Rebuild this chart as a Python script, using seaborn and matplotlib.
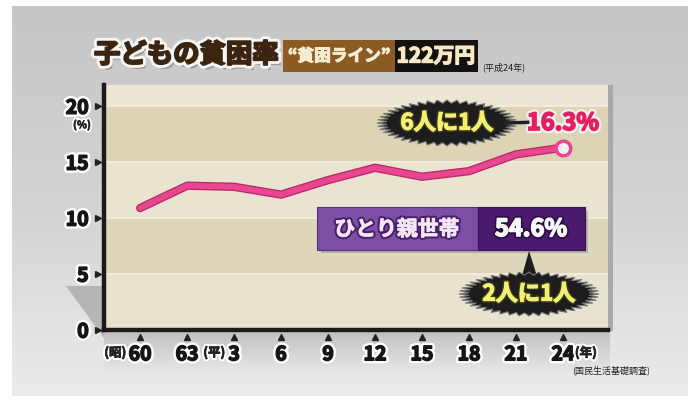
import numpy as np
import pandas as pd
import matplotlib
matplotlib.use("Agg")
import matplotlib.pyplot as plt
import matplotlib.patheffects as pe
import matplotlib.transforms as mtrans
from matplotlib.patches import Rectangle, Polygon
import seaborn as sns

# ---- data ----
year_labels = ["60", "63", "3", "6", "9", "12", "15", "18", "21", "24"]
era_prefix = ["(昭)", "", "(平)", "", "", "", "", "", "", ""]
poverty_rate = [10.9, 12.9, 12.8, 12.1, 13.4, 14.5, 13.7, 14.2, 15.7, 16.3]
y_ticks = [0, 5, 10, 15, 20]
title_text = "子どもの貧困率"
line_label = "“貧困ライン”"
line_value = "122万円"
line_year = "(平成24年)"
child_note = "6人に1人"
child_value = "16.3%"
single_label = "ひとり親世帯"
single_value = "54.6%"
single_note = "2人に1人"
source_text = "(国民生活基礎調査)"

sns.set_theme(style="white")
plt.rcParams['font.family'] = ['Noto Sans CJK JP', 'DejaVu Sans']

W, H = 696, 401
fig = plt.figure(figsize=(W / 100, H / 100), dpi=100)
fig.patch.set_facecolor("white")


def bold(color, outer=None, ow=4.0, thick=1.1):
    eff = []
    if outer:
        eff.append(pe.Stroke(linewidth=ow, foreground=outer))
    eff.append(pe.Stroke(linewidth=thick, foreground=color))
    eff.append(pe.Normal())
    return eff


# background layer (pixel coordinates)
bg = fig.add_axes([0, 0, 1, 1], zorder=-2)
bg.set_xlim(0, W); bg.set_ylim(H, 0); bg.axis("off")
grad = np.linspace(0, 1, 200)[:, None]
bg.imshow(grad, cmap=matplotlib.colors.LinearSegmentedColormap.from_list(
    "g", ["#c6c6c6", "#d3d3d3", "#ebebeb"]), aspect="auto",
    extent=[12, 688, 396, 6], zorder=0)
band = np.linspace(0, 1, 50)[:, None]
bg.imshow(band, cmap=matplotlib.colors.LinearSegmentedColormap.from_list(
    "b", ["#b9b9b9", "#e6e6e6"]), aspect="auto", alpha=0.8,
    extent=[104, 610, 372, 331], zorder=1)
bg.add_patch(Polygon([(66, 286), (104, 286), (104, 338)], closed=True,
                     facecolor="#b5b5b5", edgecolor="none", zorder=1))
bg.add_patch(Rectangle((608, 85), 5, 246, facecolor="#a9a9a9", edgecolor="none", zorder=1))

# main chart
ax = fig.add_axes([104 / W, 1 - 330 / H, 504 / W, 245 / H], zorder=0)
idx = np.arange(len(poverty_rate))
ax.set_xlim(-0.77, 9.96)
ax.set_ylim(0, 21.9)
bands = [(20, 22, "#ece7d4"), (15, 20, "#ddd4b5"), (10, 15, "#e9e4cf"),
         (5, 10, "#ded6b9"), (0, 5, "#e8e3cf")]
for lo, hi, c in bands:
    ax.axhspan(lo, hi, color=c, lw=0, zorder=0)
for yv in y_ticks[1:]:
    ax.axhline(yv, color="#f3efe0", lw=1.2, zorder=0.5)

df = pd.DataFrame({"idx": idx, "rate": poverty_rate})
sns.lineplot(data=df, x="idx", y="rate", ax=ax, color="#e8468f", lw=4.2, zorder=3,
             path_effects=[pe.Stroke(linewidth=6, foreground="#b8276a"), pe.Normal()])
ax.scatter([idx[-1]], [poverty_rate[-1]], s=110, facecolor="#f6eef3",
           edgecolor="#e8468f", linewidth=2.5, zorder=4)

for side in ["top", "right"]:
    ax.spines[side].set_visible(False)
for side in ["left", "bottom"]:
    ax.spines[side].set_color("#1b1b1b")
    ax.spines[side].set_linewidth(3.2)
ax.set_xlabel(""); ax.set_ylabel("")

ax.set_yticks(y_ticks)
ax.set_yticklabels([str(v) for v in y_ticks], fontsize=14, fontweight="bold",
                   color="#161616")
ax.set_xticks(idx)
ax.set_xticklabels(year_labels, fontsize=14, fontweight="bold", color="#161616")
ax.tick_params(axis="y", length=0, pad=11)
ax.tick_params(axis="x", length=0, pad=11)
for lbl in ax.get_yticklabels() + ax.get_xticklabels():
    lbl.set_path_effects(bold("#161616", "white", 4.5))

ax.plot([-0.77 - 0.13] * len(y_ticks), y_ticks, ls="none", marker=">", ms=4,
        color="#222", clip_on=False)
tr = mtrans.blended_transform_factory(ax.transData, ax.transAxes)
ax.plot(idx, [-0.03] * len(idx), ls="none", marker="^", ms=5, color="#222",
        clip_on=False, transform=tr)

# overlay layer (pixel coords)
ov = fig.add_axes([0, 0, 1, 1], zorder=5)
ov.set_xlim(0, W); ov.set_ylim(H, 0); ov.axis("off"); ov.patch.set_alpha(0)

ov.text(82, 125, "(%)", fontsize=7.5, fontweight="bold", color="#222",
        ha="center", va="center", path_effects=bold("#222", "white", 3, 0.5))
for i, p in enumerate(era_prefix):
    if p:
        xp = ax.transData.transform((idx[i], 0))[0]
        off = 4 + 5 * len(year_labels[i])
        ov.text(xp - off, 353, p, fontsize=9, fontweight="bold", color="#222",
                ha="right", va="center", path_effects=bold("#222", "white", 3.5, 0.6))
xp = ax.transData.transform((idx[-1], 0))[0]
ov.text(xp + 12, 353, "(年)", fontsize=9, fontweight="bold", color="#222",
        ha="left", va="center", path_effects=bold("#222", "white", 3.5, 0.6))

# title (with drop shadow via path effects)
ov.text(94, 55, title_text, fontsize=19, fontweight="bold", color="#3b2410",
        ha="left", va="center",
        path_effects=[pe.SimplePatchShadow(offset=(2.5, -3.5), shadow_rgbFace="#7a7a7a",
                                           alpha=0.6),
                      pe.Stroke(linewidth=5.5, foreground="#f6f6f6"),
                      pe.Stroke(linewidth=1.4, foreground="#3b2410"), pe.Normal()])
ov.add_patch(Rectangle((283, 40), 112, 32, facecolor="#8c5b24", edgecolor="none"))
ov.add_patch(Rectangle((395, 40), 83, 32, facecolor="#141210", edgecolor="none"))
ov.text(339, 56, line_label, fontsize=12, fontweight="bold", color="#f6ecd2",
        ha="center", va="center", path_effects=bold("#f6ecd2", None, 0, 0.8))
ov.text(436, 56, line_value, fontsize=15, fontweight="bold", color="#f8e8c6",
        ha="center", va="center", path_effects=bold("#f8e8c6", None, 0, 1.0))
ov.text(482, 72, line_year, fontsize=6.5, color="#222", ha="left", va="bottom")


def burst(cx, cy, rx, ry, n=44):
    ang = np.linspace(0, 2 * np.pi, 2 * n, endpoint=False)
    r = np.where(np.arange(2 * n) % 2 == 0, 1.0, 0.86)
    return np.column_stack([cx + rx * r * np.cos(ang), cy + ry * r * np.sin(ang)])


yellow = "#f3ef72"

# burst 1
ov.plot([505, 540], [123, 122], color="#222", lw=2.5)
ov.add_patch(Polygon(burst(447, 123, 70, 23), closed=True, facecolor="#1d1d1d",
                     edgecolor="#777", lw=0.8))
ov.text(447, 123, child_note, fontsize=16, fontweight="bold", color=yellow,
        ha="center", va="center", path_effects=bold(yellow, "#3a3a1a", 3, 1.0))
ov.text(563, 123, child_value, fontsize=17, fontweight="bold", color="#e2205f",
        ha="center", va="center", path_effects=bold("#e2205f", "#f7eef0", 4.5, 1.2))

# purple box
ov.add_patch(Rectangle((320, 210), 268, 43, facecolor="#555", alpha=0.3))
ov.add_patch(Rectangle((317, 207), 161, 43, facecolor="#7c4ea4", edgecolor="#5a2f80", lw=0.8))
ov.add_patch(Rectangle((478, 207), 107, 43, facecolor="#4a1a6e", edgecolor="#3a1058", lw=0.8))
ov.text(397, 229, single_label, fontsize=15, fontweight="bold", color="#f4e6f7",
        ha="center", va="center", path_effects=bold("#f4e6f7", "#4a1f6a", 3.5, 0.6))
ov.text(531, 229, single_value, fontsize=17, fontweight="bold", color="#f8f8f8",
        ha="center", va="center", path_effects=bold("#f8f8f8", "#2a0a40", 3.5, 1.2))

# burst 2
ov.add_patch(Polygon([(522, 276), (529, 251), (537, 276)], closed=True,
                     facecolor="#1d1d1d", edgecolor="none"))
ov.add_patch(Polygon(burst(529, 294, 70, 22), closed=True, facecolor="#1d1d1d",
                     edgecolor="#777", lw=0.8))
ov.text(529, 294, single_note, fontsize=16, fontweight="bold", color=yellow,
        ha="center", va="center", path_effects=bold(yellow, "#3a3a1a", 3, 1.0))

ov.text(650, 370, source_text, fontsize=6.5, color="#222", ha="right", va="center")

fig.savefig("out.png", dpi=100)
